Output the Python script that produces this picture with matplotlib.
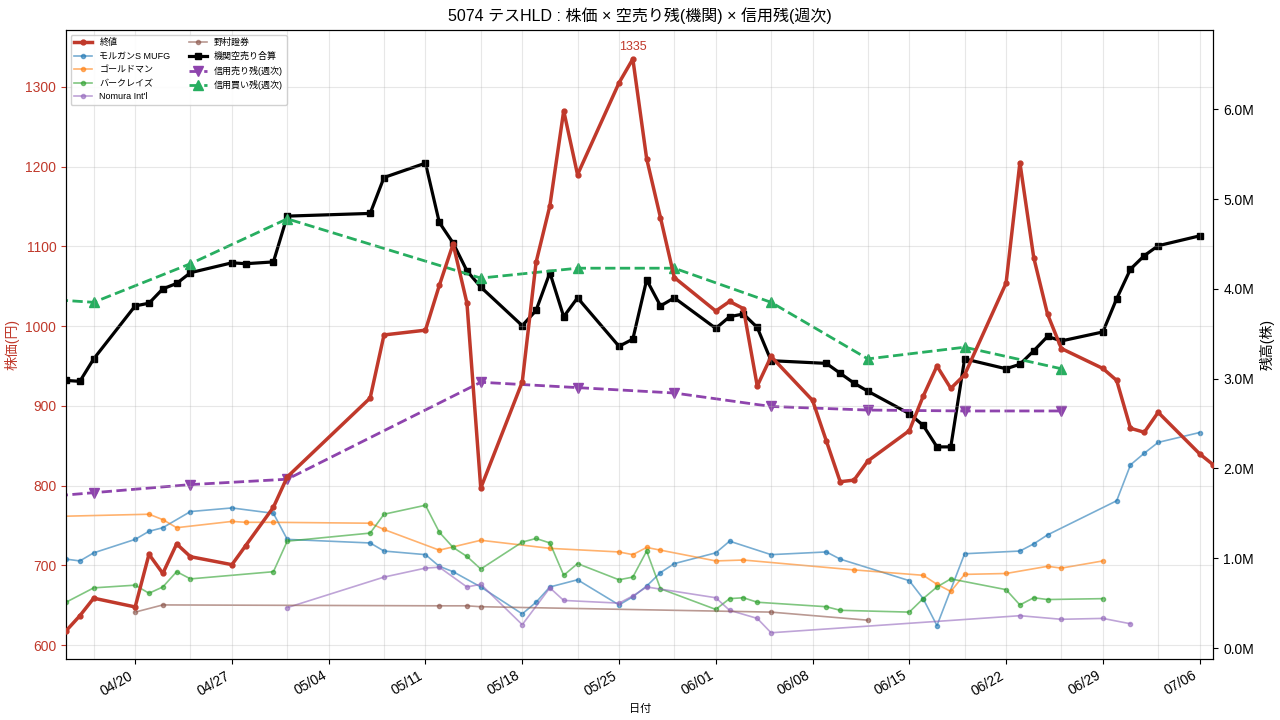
import numpy as np
import pandas as pd
import matplotlib
matplotlib.use("Agg")
import matplotlib.pyplot as plt
import matplotlib.dates as mdates
from matplotlib.ticker import FuncFormatter

plt.rcParams['font.family'] = ['Liberation Sans', 'Noto Sans CJK JP', 'DejaVu Sans']

Y = "2026-"
# %% 株価 (終値)
price_dates = ["04-15", "04-16", "04-17", "04-20", "04-21", "04-22", "04-23", "04-24", "04-27", "04-28", "04-30",
               "05-01", "05-07", "05-08", "05-11", "05-12", "05-13", "05-14", "05-15", "05-18", "05-19", "05-20",
               "05-21", "05-22", "05-25", "05-26", "05-27", "05-28", "05-29", "06-01", "06-02", "06-03", "06-04",
               "06-05", "06-08", "06-09", "06-10", "06-11", "06-12", "06-15", "06-16", "06-17", "06-18", "06-19",
               "06-22", "06-23", "06-24", "06-25", "06-26", "06-29", "06-30", "07-01", "07-02", "07-03", "07-06",
               "07-07"]
price = [618, 637, 659, 648, 714, 690, 727, 711, 701, 725, 773,
         811, 910, 989, 995, 1051, 1103, 1029, 797, 930, 1080, 1151,
         1270, 1190, 1305, 1335, 1210, 1136, 1061, 1019, 1031, 1022, 925,
         962, 907, 856, 805, 807, 831, 869, 912, 950, 922, 939,
         1054, 1205, 1086, 1015, 972, 947, 932, 872, 867, 892, 840,
         826]

# %% 機関空売り合算 (百万株)
short_dates = ["04-15", "04-16", "04-17", "04-20", "04-21", "04-22", "04-23", "04-24", "04-27", "04-28", "04-30",
               "05-01", "05-07", "05-08", "05-11", "05-12", "05-13", "05-14", "05-15", "05-18", "05-19", "05-20",
               "05-21", "05-22", "05-25", "05-26", "05-27", "05-28", "05-29", "06-01", "06-02", "06-03", "06-04",
               "06-05", "06-09", "06-10", "06-11", "06-12", "06-15", "06-16", "06-17", "06-18", "06-19",
               "06-22", "06-23", "06-24", "06-25", "06-26", "06-29", "06-30", "07-01", "07-02", "07-03", "07-06"]
short_total = [2.98, 2.97, 3.22, 3.81, 3.84, 4.00, 4.06, 4.18, 4.29, 4.28, 4.30,
               4.81, 4.84, 5.24, 5.40, 4.74, 4.51, 4.20, 4.02, 3.59, 3.76, 4.18,
               3.69, 3.90, 3.36, 3.44, 4.10, 3.81, 3.90, 3.56, 3.69, 3.72, 3.57,
               3.20, 3.17, 3.06, 2.95, 2.86, 2.61, 2.48, 2.24, 2.24, 3.22,
               3.11, 3.16, 3.31, 3.47, 3.42, 3.52, 3.89, 4.22, 4.37, 4.48, 4.59]

# %% 信用残 (週次)
week_dates = ["04-10", "04-17", "04-24", "05-01", "05-15", "05-22", "05-29", "06-05", "06-12", "06-19", "06-26"]
margin_sell = [1.64, 1.73, 1.82, 1.88, 2.96, 2.90, 2.84, 2.69, 2.65, 2.64, 2.64]
margin_buy = [3.92, 3.85, 4.28, 4.78, 4.12, 4.23, 4.23, 3.85, 3.22, 3.35, 3.11]

# %% 各社空売り残
ms_dates = ["04-15", "04-16", "04-17", "04-20", "04-21", "04-22", "04-24", "04-27", "04-30", "05-01", "05-07",
            "05-08", "05-11", "05-12", "05-13", "05-15", "05-18", "05-19", "05-20", "05-22", "05-25", "05-26",
            "05-27", "05-28", "05-29", "06-01", "06-02", "06-05", "06-09", "06-10", "06-15", "06-16", "06-17",
            "06-19", "06-23", "06-24", "06-25", "06-30", "07-01", "07-02", "07-03", "07-06"]
ms_vals = [0.99, 0.97, 1.06, 1.21, 1.30, 1.34, 1.52, 1.56, 1.50, 1.21, 1.17,
           1.08, 1.04, 0.91, 0.85, 0.68, 0.38, 0.51, 0.68, 0.76, 0.48, 0.57,
           0.69, 0.84, 0.94, 1.06, 1.19, 1.04, 1.07, 0.99, 0.75, 0.55, 0.25,
           1.05, 1.08, 1.16, 1.26, 1.64, 2.04, 2.17, 2.29, 2.40]

gs_dates = ["04-10", "04-21", "04-22", "04-23", "04-27", "04-28", "04-30", "05-07", "05-08", "05-12", "05-15",
            "05-20", "05-25", "05-26", "05-27", "05-28", "06-01", "06-03", "06-11", "06-16", "06-17", "06-18",
            "06-19", "06-22", "06-25", "06-26", "06-29"]
gs_vals = [1.45, 1.49, 1.43, 1.34, 1.41, 1.40, 1.40, 1.39, 1.32, 1.09, 1.20,
           1.11, 1.07, 1.04, 1.12, 1.09, 0.97, 0.98, 0.87, 0.81, 0.71, 0.63,
           0.82, 0.83, 0.91, 0.89, 0.97]

bc_dates = ["04-15", "04-17", "04-20", "04-21", "04-22", "04-23", "04-24", "04-30", "05-01", "05-07", "05-08",
            "05-11", "05-12", "05-13", "05-14", "05-15", "05-18", "05-19", "05-20", "05-21", "05-22", "05-25",
            "05-26", "05-27", "05-28", "06-01", "06-02", "06-03", "06-04", "06-09", "06-10", "06-15", "06-16",
            "06-17", "06-18", "06-22", "06-23", "06-24", "06-25", "06-29"]
bc_vals = [0.51, 0.67, 0.70, 0.61, 0.68, 0.85, 0.77, 0.85, 1.19, 1.28, 1.49,
           1.59, 1.29, 1.12, 1.02, 0.88, 1.18, 1.22, 1.17, 0.81, 0.94, 0.76,
           0.79, 1.08, 0.66, 0.43, 0.55, 0.56, 0.51, 0.46, 0.42, 0.40, 0.55,
           0.68, 0.77, 0.65, 0.48, 0.56, 0.54, 0.55]

ni_dates = ["05-01", "05-08", "05-11", "05-12", "05-14", "05-15", "05-18", "05-20", "05-21", "05-25", "05-26",
            "05-27", "06-01", "06-02", "06-04", "06-05", "06-23", "06-26", "06-29", "07-01"]
ni_vals = [0.45, 0.79, 0.89, 0.90, 0.68, 0.71, 0.26, 0.67, 0.53, 0.50, 0.58,
           0.68, 0.56, 0.42, 0.33, 0.17, 0.36, 0.32, 0.33, 0.27]

ns_dates = ["04-20", "04-22", "05-12", "05-14", "05-15", "06-05", "06-12"]
ns_vals = [0.40, 0.48, 0.47, 0.47, 0.46, 0.40, 0.31]


def d(lst):
    return pd.to_datetime([Y + s for s in lst])


def m(lst):
    return np.array(lst) * 1e6


fig, ax1 = plt.subplots(figsize=(12.8, 7.2), dpi=100)
fig.subplots_adjust(left=0.0516, right=0.948, top=0.958, bottom=0.085)
ax2 = ax1.twinx()

# 証券会社別(右軸)
l_ms, = ax2.plot(d(ms_dates), m(ms_vals), '-o', color='tab:blue', lw=1.2, ms=3, alpha=0.6, label='モルガンS MUFG')
l_gs, = ax2.plot(d(gs_dates), m(gs_vals), '-o', color='tab:orange', lw=1.2, ms=3, alpha=0.6, label='ゴールドマン')
l_bc, = ax2.plot(d(bc_dates), m(bc_vals), '-o', color='tab:green', lw=1.2, ms=3, alpha=0.6, label='バークレイズ')
l_ni, = ax2.plot(d(ni_dates), m(ni_vals), '-o', color='tab:purple', lw=1.2, ms=3, alpha=0.6, label="Nomura Int'l")
l_ns, = ax2.plot(d(ns_dates), m(ns_vals), '-o', color='tab:brown', lw=1.2, ms=3, alpha=0.6, label='野村證券')
l_sh, = ax2.plot(d(short_dates), m(short_total), '-s', color='black', lw=2.3, ms=4.5, label='機関空売り合算')
l_sell, = ax2.plot(d(week_dates), m(margin_sell), '--v', color='#8e44ad', lw=2, ms=6.5, label='信用売り残(週次)')
l_buy, = ax2.plot(d(week_dates), m(margin_buy), '--^', color='#27ae60', lw=2, ms=6.5, label='信用買い残(週次)')

# 株価(左軸)
l_px, = ax1.plot(d(price_dates), price, '-o', color='#c0392b', lw=2.5, ms=3.5, label='終値', zorder=5)
ax1.set_zorder(ax2.get_zorder() + 1)
ax1.patch.set_visible(False)

imax = int(np.argmax(price))
ax1.annotate(f"{price[imax]}", (d(price_dates)[imax], price[imax]), xytext=(0, 4),
             textcoords='offset points', ha='center', va='bottom', color='#c0392b', fontsize=9)

ax1.set_ylim(583, 1371)
ax2.set_ylim(-0.12e6, 6.88e6)
ax1.set_xlim(pd.Timestamp(Y + "04-15"), pd.Timestamp(Y + "07-07"))

ax1.set_ylabel('株価(円)', color='#c0392b', fontsize=10, labelpad=4)
ax1.tick_params(axis='y', colors='#c0392b')
ax2.set_ylabel('残高(株)', fontsize=10, labelpad=4)
ax2.yaxis.set_major_formatter(FuncFormatter(lambda v, p: f"{v / 1e6:.1f}M"))
ax1.set_xlabel('日付', fontsize=8)

ax1.xaxis.set_major_locator(mdates.WeekdayLocator(byweekday=mdates.MO))
ax1.xaxis.set_minor_locator(mdates.WeekdayLocator(byweekday=mdates.FR))
ax1.xaxis.set_major_formatter(mdates.DateFormatter('%m/%d'))
ax1.tick_params(axis='x', which='minor', length=0)
for lab in ax1.get_xticklabels():
    lab.set_rotation(30)
    lab.set_ha('right')

ax1.grid(True, which='both', alpha=0.3)
ax1.set_title('5074 テスHLD : 株価 × 空売り残(機関) × 信用残(週次)', fontsize=11.5, pad=7)

handles = [l_px, l_ms, l_gs, l_bc, l_ni, l_ns, l_sh, l_sell, l_buy]
ax1.legend(handles, [h.get_label() for h in handles], loc='upper left', ncol=2, fontsize=6.5, framealpha=0.9)

fig.savefig('out.png', dpi=100)
